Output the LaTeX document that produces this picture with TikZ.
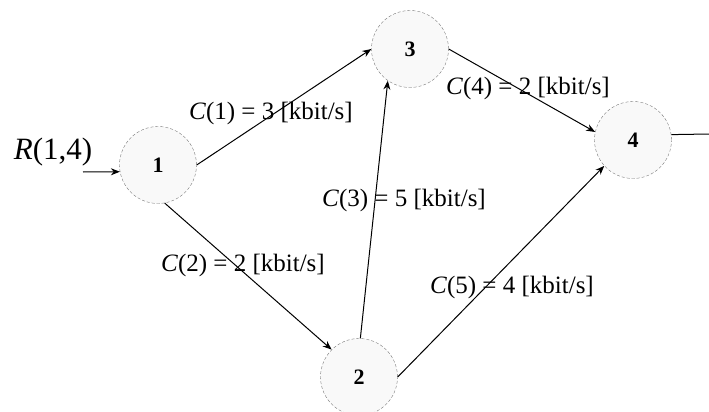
\documentclass[tikz,border=0pt]{standalone}
\usepackage{fontspec}
\setmainfont{Liberation Serif}
\usetikzlibrary{arrows.meta}
\definecolor{netgray}{RGB}{120,120,120}
\definecolor{netfill}{RGB}{249,249,249}

\begin{document}
\begin{tikzpicture}[x=1pt,y=-1pt,
    router/.style={circle,draw=netgray,densely dashed,fill=netfill,minimum size=77pt,inner sep=0pt,font=\fontsize{22}{22}\selectfont\bfseries},
    link/.style={-{Stealth[length=9pt,width=7pt]},line width=1pt},
    linklabel/.style={inner sep=0pt,font=\fontsize{25}{25}\selectfont}]
    \useasboundingbox (0,0) rectangle (709,412);
    \node[router] (n1) at (158,165) {1};
    \node[router] (n3) at (410,49) {3};
    \node[router] (n4) at (633,140) {4};
    \node[router] (n2) at (359,377) {2};
    \coordinate (rin) at (83,172);\coordinate (rout) at (709,134);
    \node[linklabel,font=\fontsize{31}{31}\selectfont] (r14) at (53,152) {\textit{R}(1,4)};
    \draw[link] (rin) -- (n1.190);
    \draw[line width=1pt] (n4.8) -- (rout);
    \draw[link] (n1.east) -- (n3.west);
    \draw[link] (n1.-80) -- (n2.135);
    \draw[link] (n2.88) -- (n3.235);
    \draw[link] (n3.east) -- (n4.168);
    \draw[link] (n2.east) -- (n4.222);
    \node[linklabel] (c1) at (271,113) {\textit{C}(1) = 3 [kbit/s]};
    \node[linklabel] (c2) at (243,265) {\textit{C}(2) = 2 [kbit/s]};
    \node[linklabel] (c3) at (404,200) {\textit{C}(3) = 5 [kbit/s]};
    \node[linklabel] (c4) at (528,88) {\textit{C}(4) = 2 [kbit/s]};
    \node[linklabel] (c5) at (512,287) {\textit{C}(5) = 4 [kbit/s]};
\end{tikzpicture}
\end{document}
